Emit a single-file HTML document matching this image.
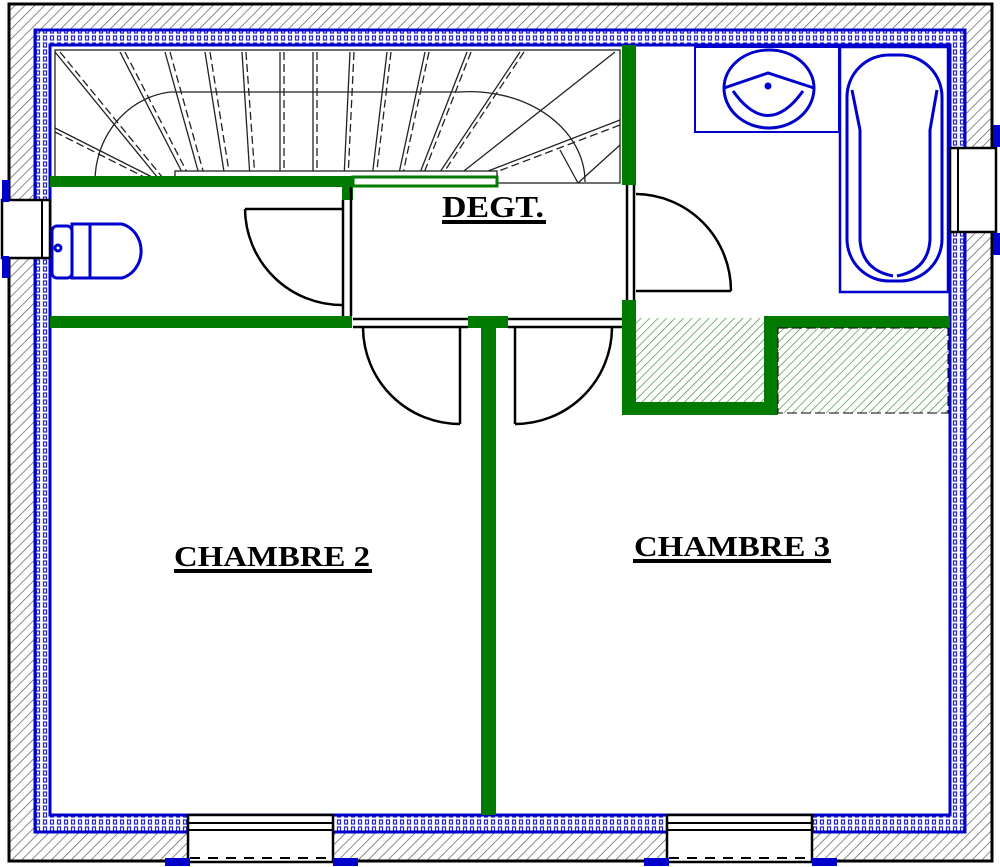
<!DOCTYPE html>
<html><head><meta charset="utf-8"><style>
html,body{margin:0;padding:0;background:#fff}
svg{display:block}
text{font-family:"Liberation Serif",serif;font-weight:bold;fill:#000}
</style></head><body>
<svg width="1000" height="867" viewBox="0 0 1000 867" xmlns="http://www.w3.org/2000/svg">
<defs>
<pattern id="hg" width="7" height="7" patternUnits="userSpaceOnUse" patternTransform="rotate(45)">
<rect width="7" height="7" fill="#fff"/><line x1="0" y1="0" x2="0" y2="7" stroke="#666" stroke-width="1.5"/></pattern>
<pattern id="hgr" width="6" height="6" patternUnits="userSpaceOnUse" patternTransform="rotate(45)">
<rect width="6" height="6" fill="#fff"/><line x1="0" y1="0" x2="0" y2="6" stroke="#3a8a3a" stroke-width="1.3"/></pattern>
<pattern id="ins" width="7" height="7" patternUnits="userSpaceOnUse">
<rect width="7" height="7" fill="#fff"/><rect x="1.5" y="1" width="3" height="4" fill="none" stroke="#2222cc" stroke-width="1.2"/></pattern>
</defs>
<rect x="9" y="4" width="983" height="857" fill="url(#hg)" stroke="#000" stroke-width="3"/>
<rect x="35" y="30" width="930" height="802" fill="url(#ins)" stroke="#0000cc" stroke-width="3"/>
<rect x="50" y="45" width="900" height="770" fill="#fff" stroke="#0000cc" stroke-width="3"/>

<g stroke="#000" stroke-width="2.5" fill="#fff">
<rect x="2" y="200" width="48" height="58"/>
<rect x="950" y="148" width="46" height="84"/>
<rect x="188" y="815" width="145" height="47"/>
<rect x="667" y="815" width="145" height="47"/>
</g>
<g stroke="#000" stroke-width="2" fill="none">
<line x1="188" y1="823" x2="333" y2="823"/><line x1="188" y1="830" x2="333" y2="830"/>
<line x1="667" y1="823" x2="812" y2="823"/><line x1="667" y1="830" x2="812" y2="830"/>
<line x1="42" y1="200" x2="42" y2="258"/><line x1="958" y1="148" x2="958" y2="232"/>
<line x1="190" y1="858" x2="333" y2="858" stroke-dasharray="10 8"/>
<line x1="669" y1="858" x2="812" y2="858" stroke-dasharray="10 8"/>
</g>
<g fill="#0000cc">
<rect x="2" y="180" width="7" height="22"/><rect x="2" y="256" width="7" height="22"/>
<rect x="993" y="125" width="7" height="22"/><rect x="993" y="233" width="7" height="22"/>
<rect x="165" y="858" width="25" height="8"/><rect x="333" y="858" width="25" height="8"/>
<rect x="644" y="858" width="25" height="8"/><rect x="812" y="858" width="25" height="8"/>
</g>

<g stroke="#222" stroke-width="1.3" fill="none">
<rect x="55" y="50" width="565" height="133"/>
<path d="M95,182 A85,90 0 0 1 170,92 L460,92 A115,90 0 0 1 585,182"/>
<line x1="55" y1="52" x2="158" y2="178"/><line x1="60" y1="52" x2="163" y2="178" stroke-dasharray="8 4"/>
<line x1="55" y1="128" x2="158" y2="180"/><line x1="55" y1="132" x2="156" y2="183" stroke-dasharray="8 4"/>
<line x1="120" y1="52" x2="185" y2="178"/><line x1="125" y1="52" x2="190" y2="178" stroke-dasharray="8 4"/>
<line x1="165" y1="52" x2="200" y2="178"/><line x1="170" y1="52" x2="205" y2="178" stroke-dasharray="8 4"/>
<line x1="205" y1="52" x2="225" y2="178"/><line x1="210" y1="52" x2="230" y2="178" stroke-dasharray="8 4"/>
<line x1="242" y1="52" x2="250" y2="178"/><line x1="246" y1="52" x2="255" y2="178" stroke-dasharray="8 4"/>
<line x1="280" y1="52" x2="280" y2="178"/><line x1="284" y1="52" x2="284" y2="178" stroke-dasharray="8 4"/>
<line x1="313" y1="52" x2="313" y2="178"/><line x1="317" y1="52" x2="317" y2="178" stroke-dasharray="8 4"/>
<line x1="350" y1="52" x2="344" y2="178"/><line x1="354" y1="52" x2="348" y2="178" stroke-dasharray="8 4"/>
<line x1="387" y1="52" x2="372" y2="178"/><line x1="391" y1="52" x2="376" y2="178" stroke-dasharray="8 4"/>
<line x1="425" y1="52" x2="398" y2="178"/><line x1="429" y1="52" x2="402" y2="178" stroke-dasharray="8 4"/>
<line x1="467" y1="52" x2="418" y2="178"/><line x1="471" y1="52" x2="422" y2="178" stroke-dasharray="8 4"/>
<line x1="520" y1="52" x2="436" y2="178"/><line x1="524" y1="52" x2="440" y2="178" stroke-dasharray="8 4"/>
<line x1="615" y1="52" x2="455" y2="178"/>
<line x1="620" y1="120" x2="470" y2="178"/><line x1="620" y1="125" x2="475" y2="180" stroke-dasharray="8 4"/>
<line x1="620" y1="145" x2="578" y2="183"/><line x1="560" y1="150" x2="578" y2="183"/>
<line x1="55" y1="184" x2="175" y2="184" stroke="#000" stroke-dasharray="14 7" stroke-width="1.5"/>
<rect x="175" y="171" width="322" height="8" fill="#fff"/>
</g>

<g fill="#007a00">
<rect x="50" y="176" width="302" height="11"/>
<rect x="342" y="176" width="11" height="24"/>
<rect x="622" y="45" width="14" height="140"/>
<rect x="50" y="316" width="302" height="12"/>
<rect x="468" y="316" width="40" height="12"/>
<rect x="481" y="316" width="15" height="499"/>
<rect x="622" y="300" width="14" height="115"/>
<rect x="622" y="402" width="156" height="13"/>
<rect x="764" y="316" width="14" height="99"/>
<rect x="764" y="316" width="186" height="12"/>
</g>
<rect x="353" y="177" width="144" height="9" fill="#fff" stroke="#007a00" stroke-width="3"/>
<rect x="636" y="318" width="128" height="84" fill="url(#hgr)"/>
<rect x="778" y="328" width="170" height="85" fill="url(#hgr)" stroke="#000" stroke-width="1" stroke-dasharray="10 4"/>

<g stroke="#000" stroke-width="2.5" fill="none">
<line x1="343" y1="200" x2="343" y2="316"/><line x1="351" y1="187" x2="351" y2="316"/>
<line x1="353" y1="319" x2="468" y2="319"/><line x1="353" y1="327" x2="468" y2="327"/>
<line x1="508" y1="319" x2="622" y2="319"/><line x1="508" y1="327" x2="622" y2="327"/>
<line x1="627" y1="185" x2="627" y2="300"/><line x1="634" y1="185" x2="634" y2="300"/>
<line x1="245" y1="209" x2="343" y2="209"/><path d="M245,209 A97,97 0 0 0 342,305"/>
<line x1="460" y1="328" x2="460" y2="424"/><path d="M363,328 A97,97 0 0 0 460,424"/>
<line x1="515" y1="328" x2="515" y2="424"/><path d="M612,328 A97,97 0 0 1 515,424"/>
<line x1="636" y1="291" x2="731" y2="291"/><path d="M636,194 A96,97 0 0 1 731,291"/>
</g>

<g stroke="#0000cc" stroke-width="3" fill="none">
<rect x="695" y="47" width="144" height="85" stroke-width="2"/>
<rect x="840" y="47" width="108" height="245" stroke-width="2.5"/>
<rect x="847" y="55" width="95" height="226" rx="42"/>
<path d="M852,90 L860,130 L860,240 Q862,270 893,276"/><path d="M937,90 L930,130 L930,240 Q928,270 897,276"/>
<path d="M724,88 A45,38 0 0 1 814,88 A45,40 0 0 1 724,88 Z"/>
<path d="M724,88 L768,73 L814,88"/><path d="M733,91 Q768,140 803,91"/>
<circle cx="768" cy="86" r="2" fill="#0000cc"/>
<rect x="52" y="226" width="20" height="52" rx="5"/>
<path d="M72,224 L122,224 A26,28 0 0 1 122,278 L72,278 Z"/>
<line x1="90" y1="224" x2="90" y2="278"/>
<circle cx="58" cy="248" r="3"/>
</g>

<text x="493" y="217" font-size="31" text-anchor="middle" textLength="102" lengthAdjust="spacingAndGlyphs">DEGT.</text>
<rect x="442" y="220" width="104" height="4" fill="#000"/>
<text x="272" y="566" font-size="29" text-anchor="middle" textLength="196" lengthAdjust="spacingAndGlyphs">CHAMBRE 2</text>
<rect x="174" y="569" width="198" height="4" fill="#000"/>
<text x="732" y="556" font-size="29" text-anchor="middle" textLength="196" lengthAdjust="spacingAndGlyphs">CHAMBRE 3</text>
<rect x="633" y="559" width="198" height="4" fill="#000"/>
</svg>
</body></html>
